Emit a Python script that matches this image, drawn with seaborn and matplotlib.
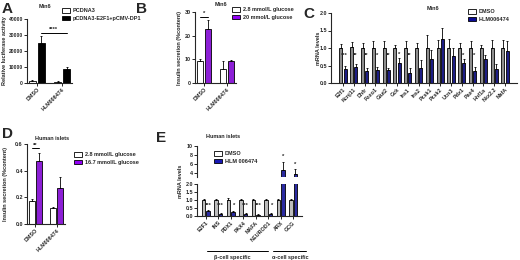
import numpy as np
import pandas as pd
import matplotlib
matplotlib.use("Agg")
import matplotlib.pyplot as plt
from matplotlib.patches import Patch
import seaborn as sns

# ~~~~~~~~~~~~~~~~~~~~~~~~~~~~~~~~~~~~~~~~~~~~~~~~~~~~~~~~~~~~~~~~~~~~~~~~~~~~~~~
# Data
# ~~~~~~~~~~~~~~~~~~~~~~~~~~~~~~~~~~~~~~~~~~~~~~~~~~~~~~~~~~~~~~~~~~~~~~~~~~~~~~~
treatments = ["DMSO", "HLM006474"]

# (A) luciferase, Min6
a_groups = ["PCDNA3", "pCDNA3-E2F1+pCMV-DP1"]
a_pcdna3 = [1500, 800]
a_pcdna3_err = [400, 250]
a_e2f1 = [25000, 8500]
a_e2f1_err = [4500, 1500]

# (B) insulin secretion, Min6
b_groups = ["2.8 mmol/L glucose", "20 mmol/L glucose"]
b_low = [9.5, 6.0]
b_low_err = [0.5, 3.5]
b_high = [23.0, 9.5]
b_high_err = [3.5, 0.4]

# (C) mRNA, Min6
c_groups = ["DMSO", "HLM006474"]
c_genes = ["E2f1", "Kcnj11", "Dhfr", "Foxo1", "Glut2", "Gck", "Ins1", "Ins2",
           "Pcsk1", "Pcsk2", "Ucn3", "Pdx1", "Pax4", "Hnf1a", "Nkx2.2", "MafA"]
c_dmso = [1.0, 1.04, 1.0, 1.0, 1.0, 1.0, 1.0, 1.0, 1.0, 1.0, 1.0, 1.0, 1.0, 1.0, 1.0, 1.0]
c_dmso_err = [0.12, 0.13, 0.14, 0.2, 0.19, 0.1, 0.2, 0.14, 0.37, 0.23, 0.27, 0.14, 0.2, 0.1, 0.23, 0.23]
c_hlm = [0.4, 0.47, 0.34, 0.36, 0.38, 0.57, 0.3, 0.44, 0.68, 1.26, 0.76, 0.57, 0.34, 0.69, 0.4, 0.92]
c_hlm_err = [0.08, 0.08, 0.09, 0.1, 0.06, 0.15, 0.13, 0.22, 0.27, 0.3, 0.24, 0.13, 0.13, 0.12, 0.15, 0.27]
c_stars = ["***", "**", "**", "*", "**", "*", "**", "", "", "", "", "*", "*", "", "", ""]

# (D) insulin secretion, human islets
d_groups = ["2.8 mmol/L glucose", "16.7 mmol/L glucose"]
d_low = [0.17, 0.12]
d_low_err = [0.02, 0.01]
d_high = [0.47, 0.27]
d_high_err = [0.06, 0.08]

# (E) mRNA, human islets
e_groups = ["DMSO", "HLM 006474"]
e_genes = ["E2F1", "INS", "PDX1", "PAX4", "MAFA", "NEUROD1", "ARX", "GCG"]
e_dmso = [1.0, 1.0, 1.0, 1.0, 1.0, 1.0, 1.0, 1.0]
e_dmso_err = [0.05, 0.05, 0.15, 0.07, 0.08, 0.06, 0.07, 0.04]
e_hlm = [0.3, 0.15, 0.22, 0.12, 0.07, 0.15, 4.6, 3.6]
e_hlm_err = [0.1, 0.06, 0.12, 0.05, 0.03, 0.04, 1.8, 1.1]
e_stars = ["***", "***", "*", "***", "***", "*", "*", "*"]

# ~~~~~~~~~~~~~~~~~~~~~~~~~~~~~~~~~~~~~~~~~~~~~~~~~~~~~~~~~~~~~~~~~~~~~~~~~~~~~~~
sns.set_theme(style="ticks")
plt.rcParams['font.family'] = ['Liberation Sans', 'DejaVu Sans']
plt.rcParams['font.weight'] = 'bold'
plt.rcParams['axes.labelweight'] = 'bold'
plt.rcParams['axes.linewidth'] = 0.8
plt.rcParams['xtick.major.width'] = 0.7
plt.rcParams['ytick.major.width'] = 0.7
plt.rcParams['xtick.major.size'] = 2
plt.rcParams['ytick.major.size'] = 2
plt.rcParams['xtick.major.pad'] = 1
plt.rcParams['ytick.major.pad'] = 1
plt.rcParams['xtick.labelsize'] = 3.9
plt.rcParams['ytick.labelsize'] = 3.9

W, H = 520, 260
fig = plt.figure(figsize=(W / 100, H / 100), dpi=100)
fig.patch.set_facecolor("white")

WHITE = "#ffffff"
PURPLE = "#9200f5"
NAVY = "#0c0c96"
BLUE = "#1818b4"
FS = 4.2
LFS = 4.0


def px_axes(x0, y0, x1, y1):
    return fig.add_axes([x0 / W, 1 - y1 / H, (x1 - x0) / W, (y1 - y0) / H])


def fx(x):
    return x / W


def fy(y):
    return 1 - y / H


def bars(ax, cats, groups, vals, errs, colors, width=0.75, gap=0.2):
    df = pd.DataFrame({
        "cat": list(cats) * 2,
        "grp": [groups[0]] * len(cats) + [groups[1]] * len(cats),
        "val": list(vals[0]) + list(vals[1]),
    })
    sns.barplot(data=df, x="cat", y="val", hue="grp", order=cats, hue_order=groups,
                palette=colors, width=width, gap=gap, edgecolor="black",
                linewidth=0.6, errorbar=None, legend=False, ax=ax)
    patches = list(ax.patches)
    xs = [p.get_x() + p.get_width() / 2 for p in patches]
    ys = [p.get_height() for p in patches]
    e = list(errs[0]) + list(errs[1])
    ax.errorbar(xs, ys, yerr=[np.zeros(len(e)), e], fmt="none", ecolor="black",
                elinewidth=0.6, capsize=1.0, capthick=0.6, zorder=1)
    ax.set_xlabel("")
    ax.set_ylabel("")
    sns.despine(ax=ax)
    return xs


def legend(ax, labels, colors, x, y):
    handles = [Patch(facecolor=c, edgecolor="black", linewidth=0.6) for c in colors]
    ax.legend(handles, labels, loc="upper left", bbox_to_anchor=(fx(x), fy(y)),
              bbox_transform=fig.transFigure, frameon=False, fontsize=LFS,
              handlelength=1.5, handleheight=0.9, handletextpad=0.5,
              borderpad=0, borderaxespad=0, labelspacing=0.45)


def rot_ticks(ax):
    for t in ax.get_xticklabels():
        t.set_rotation(45)
        t.set_ha("right")
        t.set_rotation_mode("anchor")
        t.set_fontweight("bold")


# ~~~~~~~~~~~~~~~~~~~~~~~~~~~~~~~~~~~~~~~~~~~~~~~~~~~~~~~~~~~~~~~~~~~~~~~~~~~~~~~
# A
ax_a = px_axes(27, 19, 72, 83)
xa = bars(ax_a, treatments, a_groups, [a_pcdna3, a_e2f1], [a_pcdna3_err, a_e2f1_err],
          [WHITE, "black"], width=0.7, gap=0.25)
ax_a.set_ylim(0, 40000)
ax_a.set_yticks([0, 10000, 20000, 30000, 40000])
ax_a.tick_params(axis="y", labelsize=3.6)
ax_a.plot([xa[2], xa[3]], [31500, 31500], color="black", lw=0.7)
ax_a.text((xa[2] + xa[3]) / 2, 31700, "****", ha="center", va="bottom", fontsize=FS)
rot_ticks(ax_a)
legend(ax_a, a_groups, [WHITE, "black"], 62, 8)
fig.text(fx(5), fy(51), "Relative luciferase activity", rotation=90, ha="center",
         va="center", fontsize=LFS, fontweight="bold")
fig.text(fx(45), fy(7), "Min6", ha="center", va="center", fontsize=LFS)
fig.text(fx(2), fy(9), "A", fontsize=11, fontweight="bold", va="center")

# B
ax_b = px_axes(195, 12, 236, 83)
xb = bars(ax_b, treatments, b_groups, [b_low, b_high], [b_low_err, b_high_err],
          [WHITE, PURPLE], width=0.7, gap=0.2)
ax_b.set_ylim(0, 30)
ax_b.set_yticks([0, 10, 20, 30])
ax_b.plot([xb[0], xb[2]], [28, 28], color="black", lw=0.7)
ax_b.text((xb[0] + xb[2]) / 2, 28.2, "*", ha="center", va="bottom", fontsize=FS)
rot_ticks(ax_b)
legend(ax_b, b_groups, [WHITE, PURPLE], 232, 7)
fig.text(fx(180), fy(48), "Insulin secretion (%content)", rotation=90, ha="center",
         va="center", fontsize=LFS, fontweight="bold")
fig.text(fx(221), fy(5), "Min6", ha="center", va="center", fontsize=LFS)
fig.text(fx(136), fy(9), "B", fontsize=11, fontweight="bold", va="center")

# C
ax_c = px_axes(331, 13, 517, 83)
xc = bars(ax_c, c_genes, c_groups, [c_dmso, c_hlm], [c_dmso_err, c_hlm_err],
          ["#8e8e8e", NAVY], width=0.75, gap=0.25)
ax_c.set_ylim(0, 2.0)
ax_c.set_yticks([0, 0.5, 1.0, 1.5, 2.0])
ax_c.set_yticklabels(["0.0", "0.5", "1.0", "1.5", "2.0"])
n = len(c_genes)
for i, s in enumerate(c_stars):
    if not s:
        continue
    if s == "*" and c_hlm[i] + c_hlm_err[i] > 0.7:
        ax_c.text(xc[n + i], c_hlm[i] + c_hlm_err[i] + 0.02, s, ha="center", va="bottom", fontsize=FS)
    else:
        ax_c.text((xc[i] + xc[n + i]) / 2 + 0.15, 0.72, s, ha="center", va="bottom", fontsize=FS)
rot_ticks(ax_c)
legend(ax_c, c_groups, [WHITE, NAVY], 468, 9)
fig.text(fx(318), fy(48), "mRNA levels", rotation=90, ha="center", va="center",
         fontsize=LFS, fontweight="bold")
fig.text(fx(433), fy(9), "Min6", ha="center", va="center", fontsize=LFS)
fig.text(fx(303), fy(14), "C", fontsize=11, fontweight="bold", va="center")

# D
ax_d = px_axes(27, 144, 65, 224)
xd = bars(ax_d, treatments, d_groups, [d_low, d_high], [d_low_err, d_high_err],
          [WHITE, PURPLE], width=0.7, gap=0.2)
ax_d.set_ylim(0, 0.6)
ax_d.set_yticks([0, 0.2, 0.4, 0.6])
ax_d.set_yticklabels(["0.0", "0.2", "0.4", "0.6"])
ax_d.plot([xd[0], xd[2]], [0.57, 0.57], color="black", lw=0.7)
ax_d.text((xd[0] + xd[2]) / 2, 0.572, "**", ha="center", va="bottom", fontsize=FS)
rot_ticks(ax_d)
legend(ax_d, d_groups, [WHITE, PURPLE], 74, 152)
fig.text(fx(6), fy(184), "Insulin secretion (%content)", rotation=90, ha="center",
         va="center", fontsize=LFS, fontweight="bold")
fig.text(fx(52), fy(138), "Human islets", ha="center", va="center", fontsize=LFS)
fig.text(fx(2), fy(134), "D", fontsize=11, fontweight="bold", va="center")

# E (broken y axis)
ax_et = px_axes(197, 146, 302, 177)
ax_eb = px_axes(197, 184, 302, 216)
xe = bars(ax_et, e_genes, e_groups, [e_dmso, e_hlm], [e_dmso_err, e_hlm_err],
          ["#bdbdbd", BLUE], width=0.75, gap=0.25)
bars(ax_eb, e_genes, e_groups, [e_dmso, e_hlm], [e_dmso_err, e_hlm_err],
     ["#bdbdbd", BLUE], width=0.75, gap=0.25)
ax_et.set_ylim(3, 10)
ax_et.set_yticks([4, 6, 8, 10])
ax_et.spines["bottom"].set_visible(False)
ax_et.set_xticks([])
ax_eb.set_ylim(0, 2.0)
ax_eb.set_yticks([0, 0.5, 1.0, 1.5, 2.0])
ax_eb.set_yticklabels(["0.0", "0.5", "1.0", "1.5", "2.0"])
ne = len(e_genes)
for i, s in enumerate(e_stars):
    if e_hlm[i] > 2:
        ax_et.text(xe[ne + i], e_hlm[i] + e_hlm_err[i] + 1.2, s, ha="center",
                   va="center", fontsize=FS)
    elif s == "*":
        ax_eb.text(xe[ne + i] + 0.1, 0.5, s, ha="center", va="bottom", fontsize=FS)
    else:
        ax_eb.text((xe[i] + xe[ne + i]) / 2 + 0.2, 0.52, s, ha="center", va="bottom", fontsize=FS)
rot_ticks(ax_eb)
legend(ax_et, e_groups, [WHITE, BLUE], 214, 151)
fig.text(fx(180), fy(181), "mRNA levels", rotation=90, ha="center", va="center",
         fontsize=LFS, fontweight="bold")
fig.text(fx(223), fy(136), "Human islets", ha="center", va="center", fontsize=LFS)
fig.text(fx(156), fy(138), "E", fontsize=11, fontweight="bold", va="center")
# cell-type brackets under the tick labels
fig.add_artist(plt.Line2D([fx(207), fx(268)], [fy(251), fy(251)], color="black", lw=0.7))
fig.add_artist(plt.Line2D([fx(273), fx(306)], [fy(251), fy(251)], color="black", lw=0.7))
fig.text(fx(232), fy(258), "β-cell specific", ha="center", va="center", fontsize=LFS)
fig.text(fx(290), fy(258), "α-cell specific", ha="center", va="center", fontsize=LFS)

fig.savefig("out.png", dpi=100, facecolor="white")
